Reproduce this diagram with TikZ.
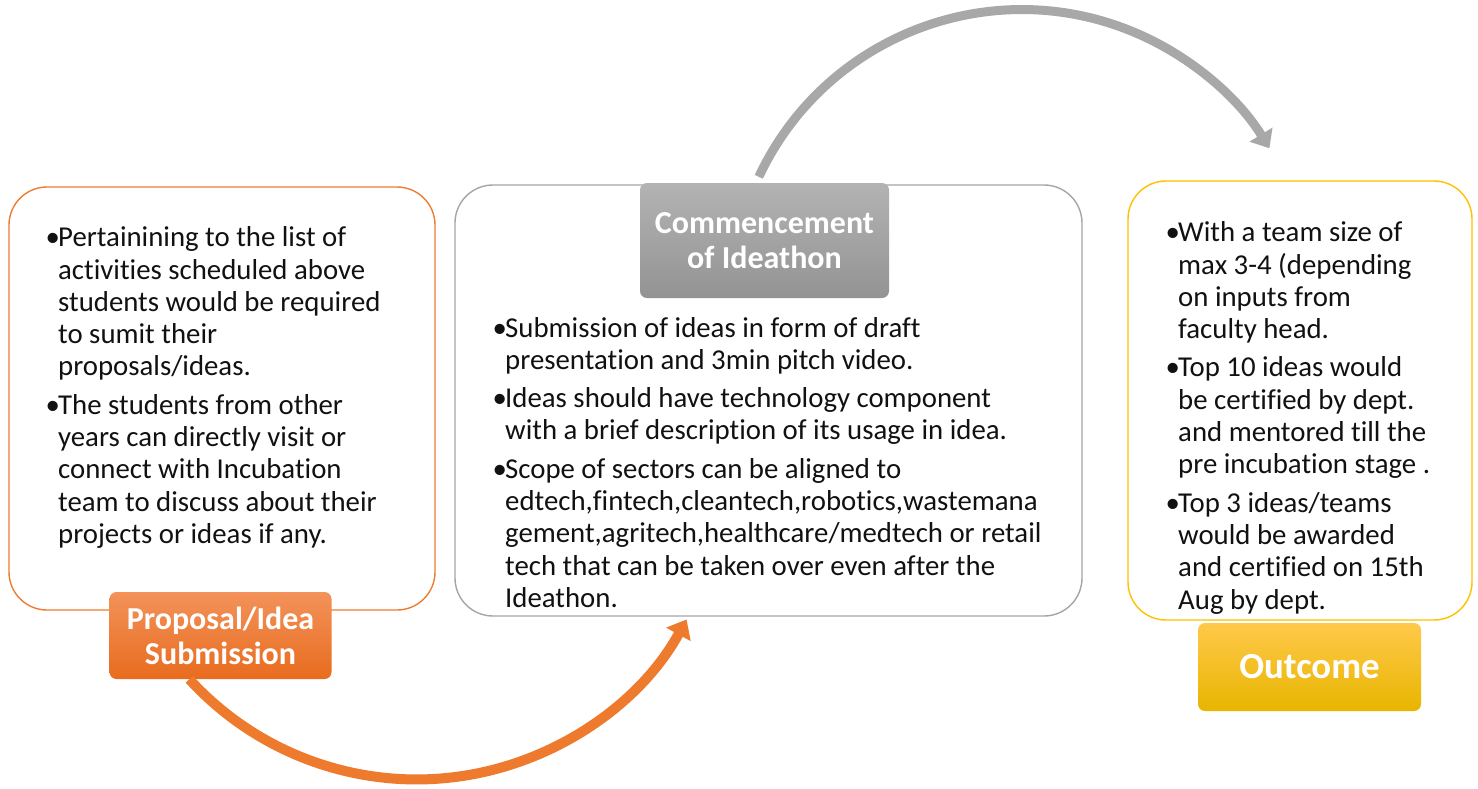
\documentclass[tikz,border=0pt]{standalone}
\usepackage{fontspec}
\setmainfont{Carlito}[Ligatures=NoCommon]
\usetikzlibrary{arrows.meta}
\definecolor{orline}{HTML}{ED7D31}
\definecolor{grline}{HTML}{A5A5A5}
\definecolor{yeline}{HTML}{FFC000}
\definecolor{ortop}{HTML}{F3925A}
\definecolor{orbot}{HTML}{E86C1E}
\definecolor{grtop}{HTML}{B3B3B3}
\definecolor{grbot}{HTML}{939393}
\definecolor{yetop}{HTML}{FFC94A}
\definecolor{yebot}{HTML}{E8B500}
\definecolor{orarrow}{HTML}{EE7A2E}
\definecolor{grarrow}{HTML}{A8A8A8}
\definecolor{bodytext}{HTML}{111111}
\newlength\bw
\setlength\bw{11pt}
\newcommand{\bitem}[1]{\noindent\hangindent=\bw\hangafter=1 \makebox[\bw][l]{\hspace{-1.5pt}•}#1\par}
\newcommand{\bgap}{\vspace{6pt}}
\newcommand{\bodybox}[2]{\parbox[t]{#1}{\fontsize{28.8}{32.3}\selectfont\parskip=0pt\parindent=0pt\rightskip=0pt plus 1fil #2}}
\begin{document}
\begin{tikzpicture}[x=1pt,y=-1pt,
  bigbox/.style={draw, line width=1.4pt, rounded corners=38pt, fill=white, inner sep=0pt},
  labbox/.style={rounded corners=7pt, inner sep=0pt, text=white, align=center,
    font=\bfseries\fontsize{32}{35}\selectfont},
  bodytxt/.style={anchor=base west, inner sep=0pt, text=bodytext}
]
\useasboundingbox (0,0) rectangle (1478,788);
\fill[white] (0,0) rectangle (1478,788);

% content boxes
\node[bigbox, draw=orline, minimum width=426pt, minimum height=423pt] (lbox) at (222,398.5) {};
\node[bigbox, draw=grline, minimum width=627pt, minimum height=431pt] (mbox) at (768.5,400.5) {};
\node[bigbox, draw=yeline, minimum width=344pt, minimum height=439pt] (rbox) at (1300,400.5) {};

% body texts
\node[bodytxt] (ltext) at (47,246.7) {\bodybox{400pt}{%
\bitem{Pertainining to the list of\\activities scheduled above\\students would be required\\to sumit their\\proposals/ideas.}\bgap
\bitem{The students from other\\years can directly visit or\\connect with Incubation\\team to discuss about their\\projects or ideas if any.}}};

\node[bodytxt] (mtext) at (494,337) {\bodybox{600pt}{%
\bitem{Submission of ideas in form of draft\\presentation and 3min pitch video.}\bgap
\bitem{Ideas should have technology component\\with a brief description of its usage in idea.}\bgap
\bitem{Scope of sectors can be aligned to\\edtech,fintech,cleantech,robotics,wastemana\\gement,agritech,healthcare/medtech or retail\\tech that can be taken over even after the\\Ideathon.}}};

\node[bodytxt] (rtext) at (1167,241.7) {\bodybox{320pt}{%
\bitem{With a team size of\\max 3-4 (depending\\on inputs from\\faculty head.}\bgap
\bitem{Top 10 ideas would\\be certified by dept.\\and mentored till the\\pre incubation stage .}\bgap
\bitem{Top 3 ideas/teams\\would be awarded\\and certified on 15th\\Aug by dept.}}};

% label boxes
\node[labbox, top color=ortop, bottom color=orbot, minimum width=222pt, minimum height=87pt] (lab1) at (220.5,635.5) {Proposal/Idea\\Submission};
\node[labbox, top color=grtop, bottom color=grbot, minimum width=249pt, minimum height=115pt] (lab2) at (764.5,240.5) {Commencement\\of Ideathon};
\node[labbox, top color=yetop, bottom color=yebot, minimum width=223pt, minimum height=88pt, font=\bfseries\fontsize{36.8}{40}\selectfont] (lab3) at (1309.5,667) {Outcome};

% arrows
\draw[orarrow, line width=10pt, -{Triangle[length=17pt,width=27pt]}]
  ([xshift=80pt]lab1.south west) arc[start angle=137.6, end angle=28.7, radius=307.8];
\draw[grarrow, line width=9pt, -{Triangle[length=16pt,width=26pt]}]
  ([xshift=119pt,yshift=6pt]lab2.north west) arc[start angle=-154.9, end angle=-31.5, radius=290.4];
\end{tikzpicture}
\end{document}
